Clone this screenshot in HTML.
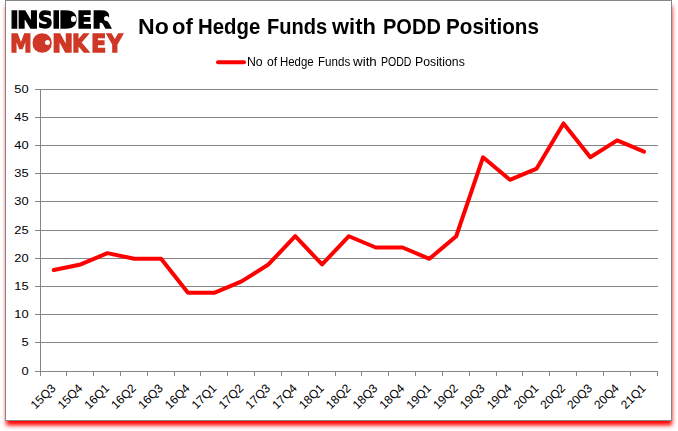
<!DOCTYPE html>
<html lang="en">
<head>
<meta charset="utf-8">
<title>No of Hedge Funds with PODD Positions</title>
<style>
html,body{margin:0;padding:0;background:#fff;}
body{width:678px;height:431px;position:relative;overflow:hidden;font-family:"Liberation Sans",sans-serif;}
svg{position:absolute;left:0;top:0;}
.logo{position:absolute;left:0;top:0;font-family:"DejaVu Sans","Liberation Sans",sans-serif;font-weight:bold;white-space:nowrap;}
.dot{position:absolute;background:#fff;border-radius:50%;}
.logo span{position:absolute;display:block;transform-origin:0 0;}
.title{position:absolute;left:0;top:15px;font-size:21.7px;font-weight:bold;color:#000;white-space:nowrap;line-height:24px;}
.legend{position:absolute;left:0;top:55px;font-size:12px;color:#000;white-space:nowrap;line-height:14px;}
.title span,.legend span{position:absolute;top:0;display:block;transform-origin:0 0;}
</style>
</head>
<body>
<svg width="678" height="431" viewBox="0 0 678 431" font-family="'Liberation Sans', sans-serif">

<defs><filter id="blur" x="-5%" y="-5%" width="110%" height="110%"><feGaussianBlur stdDeviation="2"/></filter></defs>
<rect x="6.2" y="6" width="665.8" height="419.4" fill="#ff0000" filter="url(#blur)"/>
<rect x="5.5" y="0.5" width="666" height="420" fill="#ffffff" stroke="#868686" stroke-width="1"/>
<g stroke="#868686" stroke-width="1" fill="none">
<line x1="35.00" y1="371.50" x2="658.00" y2="371.50"/>
<line x1="35.00" y1="342.50" x2="658.00" y2="342.50"/>
<line x1="35.00" y1="314.50" x2="658.00" y2="314.50"/>
<line x1="35.00" y1="286.50" x2="658.00" y2="286.50"/>
<line x1="35.00" y1="258.50" x2="658.00" y2="258.50"/>
<line x1="35.00" y1="230.50" x2="658.00" y2="230.50"/>
<line x1="35.00" y1="201.50" x2="658.00" y2="201.50"/>
<line x1="35.00" y1="173.50" x2="658.00" y2="173.50"/>
<line x1="35.00" y1="145.50" x2="658.00" y2="145.50"/>
<line x1="35.00" y1="117.50" x2="658.00" y2="117.50"/>
<line x1="35.00" y1="89.50" x2="658.00" y2="89.50"/>
<line x1="40.50" y1="89.00" x2="40.50" y2="376.00"/>
<line x1="40.50" y1="371.00" x2="40.50" y2="376.00"/>
<line x1="66.50" y1="371.00" x2="66.50" y2="376.00"/>
<line x1="93.50" y1="371.00" x2="93.50" y2="376.00"/>
<line x1="120.50" y1="371.00" x2="120.50" y2="376.00"/>
<line x1="147.50" y1="371.00" x2="147.50" y2="376.00"/>
<line x1="174.50" y1="371.00" x2="174.50" y2="376.00"/>
<line x1="200.50" y1="371.00" x2="200.50" y2="376.00"/>
<line x1="227.50" y1="371.00" x2="227.50" y2="376.00"/>
<line x1="254.50" y1="371.00" x2="254.50" y2="376.00"/>
<line x1="281.50" y1="371.00" x2="281.50" y2="376.00"/>
<line x1="308.50" y1="371.00" x2="308.50" y2="376.00"/>
<line x1="335.50" y1="371.00" x2="335.50" y2="376.00"/>
<line x1="361.50" y1="371.00" x2="361.50" y2="376.00"/>
<line x1="388.50" y1="371.00" x2="388.50" y2="376.00"/>
<line x1="415.50" y1="371.00" x2="415.50" y2="376.00"/>
<line x1="442.50" y1="371.00" x2="442.50" y2="376.00"/>
<line x1="469.50" y1="371.00" x2="469.50" y2="376.00"/>
<line x1="496.50" y1="371.00" x2="496.50" y2="376.00"/>
<line x1="522.50" y1="371.00" x2="522.50" y2="376.00"/>
<line x1="549.50" y1="371.00" x2="549.50" y2="376.00"/>
<line x1="576.50" y1="371.00" x2="576.50" y2="376.00"/>
<line x1="603.50" y1="371.00" x2="603.50" y2="376.00"/>
<line x1="630.50" y1="371.00" x2="630.50" y2="376.00"/>
<line x1="657.50" y1="371.00" x2="657.50" y2="376.00"/>
</g>
<g font-size="11.5px" fill="#000" text-anchor="end">
<text transform="translate(28.6,375.20) scale(1.12,1)" x="0" y="0">0</text>
<text transform="translate(28.6,346.20) scale(1.12,1)" x="0" y="0">5</text>
<text transform="translate(28.6,318.20) scale(1.12,1)" x="0" y="0">10</text>
<text transform="translate(28.6,290.20) scale(1.12,1)" x="0" y="0">15</text>
<text transform="translate(28.6,262.20) scale(1.12,1)" x="0" y="0">20</text>
<text transform="translate(28.6,234.20) scale(1.12,1)" x="0" y="0">25</text>
<text transform="translate(28.6,205.20) scale(1.12,1)" x="0" y="0">30</text>
<text transform="translate(28.6,177.20) scale(1.12,1)" x="0" y="0">35</text>
<text transform="translate(28.6,149.20) scale(1.12,1)" x="0" y="0">40</text>
<text transform="translate(28.6,121.20) scale(1.12,1)" x="0" y="0">45</text>
<text transform="translate(28.6,93.20) scale(1.12,1)" x="0" y="0">50</text>
</g>
<g font-size="12px" fill="#000" text-anchor="end">
<text transform="translate(53.31,385.90) rotate(-45)" x="0" y="4.3">15Q3</text>
<text transform="translate(80.14,385.90) rotate(-45)" x="0" y="4.3">15Q4</text>
<text transform="translate(106.97,385.90) rotate(-45)" x="0" y="4.3">16Q1</text>
<text transform="translate(133.79,385.90) rotate(-45)" x="0" y="4.3">16Q2</text>
<text transform="translate(160.62,385.90) rotate(-45)" x="0" y="4.3">16Q3</text>
<text transform="translate(187.44,385.90) rotate(-45)" x="0" y="4.3">16Q4</text>
<text transform="translate(214.27,385.90) rotate(-45)" x="0" y="4.3">17Q1</text>
<text transform="translate(241.10,385.90) rotate(-45)" x="0" y="4.3">17Q2</text>
<text transform="translate(267.92,385.90) rotate(-45)" x="0" y="4.3">17Q3</text>
<text transform="translate(294.75,385.90) rotate(-45)" x="0" y="4.3">17Q4</text>
<text transform="translate(321.57,385.90) rotate(-45)" x="0" y="4.3">18Q1</text>
<text transform="translate(348.40,385.90) rotate(-45)" x="0" y="4.3">18Q2</text>
<text transform="translate(375.23,385.90) rotate(-45)" x="0" y="4.3">18Q3</text>
<text transform="translate(402.05,385.90) rotate(-45)" x="0" y="4.3">18Q4</text>
<text transform="translate(428.88,385.90) rotate(-45)" x="0" y="4.3">19Q1</text>
<text transform="translate(455.70,385.90) rotate(-45)" x="0" y="4.3">19Q2</text>
<text transform="translate(482.53,385.90) rotate(-45)" x="0" y="4.3">19Q3</text>
<text transform="translate(509.36,385.90) rotate(-45)" x="0" y="4.3">19Q4</text>
<text transform="translate(536.18,385.90) rotate(-45)" x="0" y="4.3">20Q1</text>
<text transform="translate(563.01,385.90) rotate(-45)" x="0" y="4.3">20Q2</text>
<text transform="translate(589.83,385.90) rotate(-45)" x="0" y="4.3">20Q3</text>
<text transform="translate(616.66,385.90) rotate(-45)" x="0" y="4.3">20Q4</text>
<text transform="translate(643.49,385.90) rotate(-45)" x="0" y="4.3">21Q1</text>
</g>
<polyline points="53.81,270.08 80.64,264.44 107.47,253.16 134.29,258.80 161.12,258.80 187.94,292.64 214.77,292.64 241.60,281.36 268.42,264.44 295.25,236.24 322.07,264.44 348.90,236.24 375.73,247.52 402.55,247.52 429.38,258.80 456.20,236.24 483.03,157.28 509.86,179.84 536.68,168.56 563.51,123.44 590.33,157.28 617.16,140.36 643.99,151.64" fill="none" stroke="#ff0000" stroke-width="4" stroke-linejoin="round" stroke-linecap="round"/>
<line x1="218" y1="62.2" x2="244" y2="62.2" stroke="#ff0000" stroke-width="4" stroke-linecap="round"/>
<ellipse cx="68.5" cy="19.2" rx="5.5" ry="7" fill="#000"/>
<ellipse cx="103" cy="17" rx="5" ry="5" fill="#000"/>
<circle cx="42.4" cy="43" r="8" fill="#cf3826"/>
</svg>
<div class="logo l1" style="font-size:23.56px;line-height:23.56px;color:#000;-webkit-text-stroke:1.30px #000"><span style="left:9.62px;top:8.86px;transform:scaleX(1.004)">I</span><span style="left:17.49px;top:8.86px;transform:scaleX(1.098)">N</span><span style="left:37.64px;top:8.86px;transform:scaleX(0.862)">S</span><span style="left:51.57px;top:8.86px;transform:scaleX(0.969)">I</span><span style="left:59.33px;top:8.86px;transform:scaleX(0.928)">D</span><span style="left:77.43px;top:8.86px;transform:scaleX(0.930)">E</span><span style="left:92.43px;top:8.86px;transform:scaleX(1.065)">R</span></div>
<div class="logo l2" style="font-size:24.38px;line-height:24.38px;color:#cf3826;-webkit-text-stroke:1.30px #cf3826"><span style="left:9.71px;top:31.77px;transform:scaleX(0.903)">M</span><span style="left:32.24px;top:31.77px;transform:scaleX(0.980)">O</span><span style="left:51.68px;top:31.77px;transform:scaleX(1.046)">N</span><span style="left:72.46px;top:31.77px;transform:scaleX(0.870)">K</span><span style="left:90.69px;top:31.77px;transform:scaleX(0.916)">E</span><span style="left:106.59px;top:31.77px;transform:scaleX(0.889)">Y</span></div>
<div class="dot" style="left:70.8px;top:16.4px;width:5.2px;height:5.2px"></div>
<div class="dot" style="left:103.7px;top:16.1px;width:5.2px;height:5.2px"></div>
<div class="dot" style="left:44.6px;top:39.8px;width:5.6px;height:5.6px"></div>
<div class="title"><span style="left:138.04px;transform:scaleX(1.065)">No</span> <span style="left:172.44px;transform:scaleX(1.016)">of</span> <span style="left:198.31px;transform:scaleX(0.939)">Hedge</span> <span style="left:267.03px;transform:scaleX(0.926)">Funds</span> <span style="left:332.03px;transform:scaleX(1.011)">with</span> <span style="left:382.53px;transform:scaleX(0.924)">PODD</span> <span style="left:446.39px;transform:scaleX(0.952)">Positions</span></div>
<div class="legend"><span style="left:247.01px;transform:scaleX(1.021)">No</span> <span style="left:266.50px;transform:scaleX(1.008)">of</span> <span style="left:279.77px;transform:scaleX(0.953)">Hedge</span> <span style="left:318.36px;transform:scaleX(0.965)">Funds</span> <span style="left:353.30px;transform:scaleX(1.115)">with</span> <span style="left:380.83px;transform:scaleX(0.878)">PODD</span> <span style="left:415.21px;transform:scaleX(1.022)">Positions</span></div>
</body>
</html>
